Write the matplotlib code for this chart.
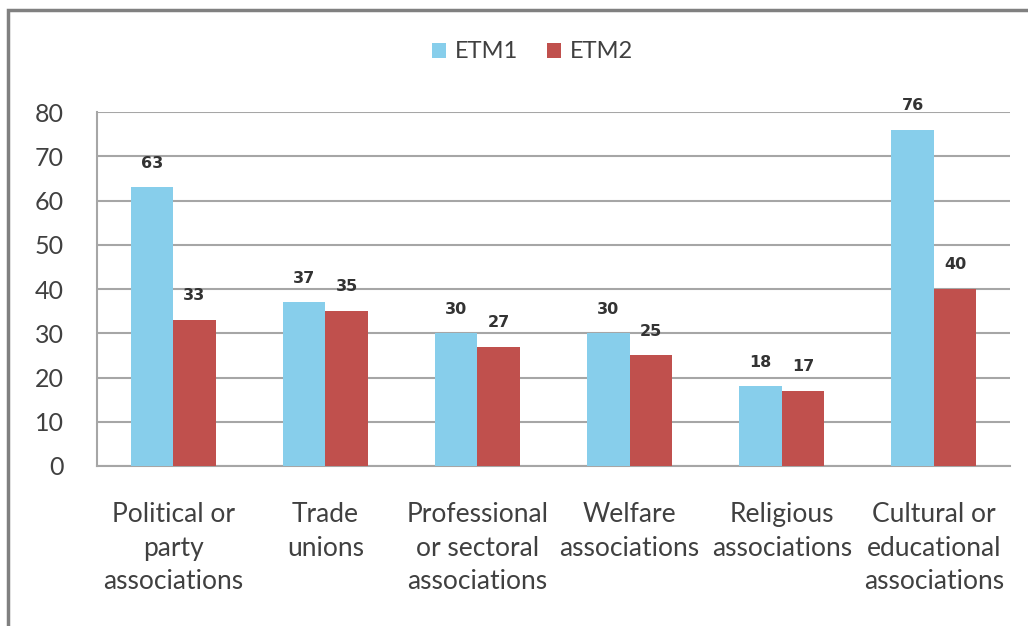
import numpy as np
import matplotlib
matplotlib.use("Agg")
import matplotlib.pyplot as plt
from matplotlib.patches import Rectangle

# datos
categorias = ["Political or\nparty\nassociations", "Trade\nunions",
              "Professional\nor sectoral\nassociations", "Welfare\nassociations",
              "Religious\nassociations", "Cultural or\neducational\nassociations"]
etm1 = [63, 37, 30, 30, 18, 76]
etm2 = [33, 35, 27, 25, 17, 40]
series = ["ETM1", "ETM2"]

color_azul = "#87CEEB"
color_rojo = "#C0504D"
gris = "#A6A6A6"

plt.rcParams['font.family'] = ['Lato', 'DejaVu Sans']

fig = plt.figure(figsize=(10.28, 6.26), dpi=100)
ax = fig.add_axes([0.0944, 0.2556, 0.888, 0.5654])

x = np.arange(len(categorias))
w = 0.28
b1 = ax.bar(x - w / 2, etm1, w, color=color_azul, label=series[0], zorder=3)
b2 = ax.bar(x + w / 2, etm2, w, color=color_rojo, label=series[1], zorder=3)

for bars in (b1, b2):
    for r in bars:
        ax.annotate(f"{int(r.get_height())}", (r.get_x() + r.get_width() / 2, r.get_height()),
                    xytext=(0, 12), textcoords="offset points", ha="center", va="bottom",
                    fontsize=11.5, fontweight="bold", color="#333333",
                    family=['DejaVu Sans'])

ax.set_xlim(-0.5, len(categorias) - 0.5)
ax.set_ylim(0, 80)
ax.set_yticks(range(0, 81, 10))
ax.yaxis.grid(True, color=gris, linewidth=1.5, zorder=0)
ax.set_xticks(x)
ax.set_xticklabels(categorias, fontsize=19, color="#404040", linespacing=1.42)
ax.tick_params(axis="y", labelsize=18, labelcolor="#404040", length=0, pad=24)
ax.tick_params(axis="x", length=0, pad=26)
for s in ["top", "right"]:
    ax.spines[s].set_visible(False)
ax.spines["left"].set_color(gris)
ax.spines["left"].set_linewidth(1.5)
ax.spines["bottom"].set_color(gris)
ax.spines["bottom"].set_linewidth(1.5)

fig.legend(handles=[b1, b2], labels=series, loc="center", bbox_to_anchor=(0.518, 0.917),
           ncol=2, frameon=False, fontsize=17, handlelength=0.6, handleheight=0.6,
           columnspacing=1.2, handletextpad=0.4, labelcolor="#404040")

# marco exterior
fig.patches.append(Rectangle((8 / 1028, -0.01), 1.05, 1 - 10 / 626 + 0.01,
                             transform=fig.transFigure, fill=False,
                             edgecolor="#808080", linewidth=2.5))

fig.savefig("out.png", dpi=100)
